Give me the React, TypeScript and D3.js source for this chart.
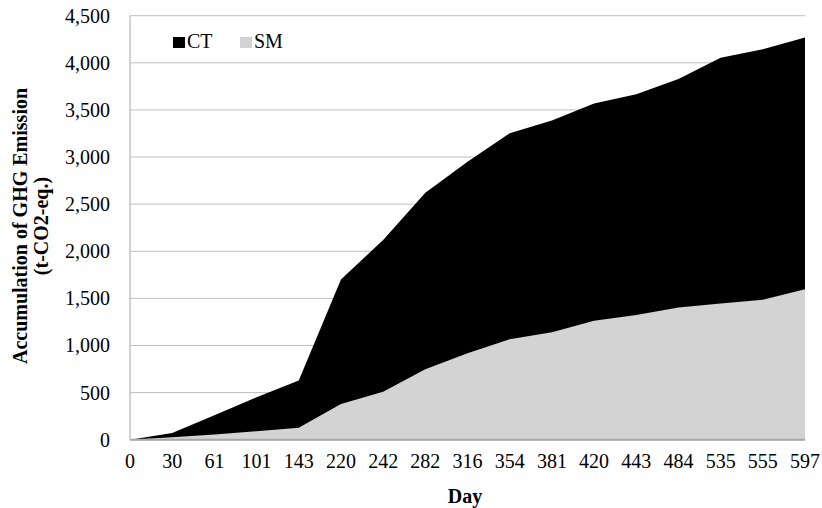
import React from "react";
import * as d3 from "d3";

const days = ["0", "30", "61", "101", "143", "220", "242", "282", "316", "354", "381", "420", "443", "484", "535", "555", "597"];
const ctValues = [0, 72, 260, 450, 628, 1700, 2120, 2622, 2951, 3253, 3387, 3567, 3667, 3829, 4055, 4144, 4268];
const smValues = [0, 25, 55, 90, 128, 378, 510, 747, 917, 1066, 1140, 1263, 1324, 1403, 1446, 1485, 1597];
const yTicks = [0, 500, 1000, 1500, 2000, 2500, 3000, 3500, 4000, 4500];

const W = 822;
const H = 508;
const left = 130;
const right = 805;
const top = 15.7;
const bottom = 439.7;
const FONT = "'Liberation Serif', 'Times New Roman', serif";

export default function App() {
  const x = d3.scalePoint<string>().domain(days).range([left, right]);
  const y = d3.scaleLinear().domain([0, 4500]).range([bottom, top]);
  const fmt = d3.format(",");

  const area = (vals: number[]) =>
    d3
      .area<number>()
      .x((_, i) => x(days[i]) as number)
      .y0(y(0))
      .y1((d) => y(d))(vals) as string;

  return (
    <svg
      width={W}
      height={H}
      style={{ position: "absolute", left: 0, top: 0, background: "#fff" }}
      fontFamily={FONT}
    >
      {/* horizontal gridlines */}
      {yTicks.map((t) => (
        <line key={t} x1={left} x2={right} y1={y(t)} y2={y(t)} stroke="#bfbfbf" strokeWidth={1} />
      ))}
      {/* series areas */}
      <path d={area(ctValues)} fill="#000" />
      <path d={area(smValues)} fill="#d3d3d3" />
      {/* axes */}
      <line x1={left} x2={left} y1={top} y2={bottom} stroke="#a6a6a6" strokeWidth={1} />
      <line x1={left} x2={right} y1={bottom} y2={bottom} stroke="#a6a6a6" strokeWidth={2} />
      {yTicks.map((t) => (
        <text key={t} x={110} y={y(t)} dy="0.35em" textAnchor="end" fontSize={20} fill="#000">
          {fmt(t)}
        </text>
      ))}
      {days.map((d) => (
        <text key={d} x={x(d) as number} y={468} textAnchor="middle" fontSize={20} fill="#000">
          {d}
        </text>
      ))}
      <text x={465} y={503} textAnchor="middle" fontSize={20} fontWeight="bold">
        Day
      </text>
      <g transform="translate(27,226) rotate(-90)">
        <text x={0} y={0} textAnchor="middle" fontSize={20} fontWeight="bold">
          Accumulation of GHG Emission
        </text>
        <text x={0} y={21} textAnchor="middle" fontSize={20} fontWeight="bold">
          (t-CO2-eq.)
        </text>
      </g>
      {/* legend */}
      <rect x={173} y={37} width={12} height={11} fill="#000" />
      <text x={187} y={48} fontSize={20}>CT</text>
      <rect x={240} y={37} width={12} height={11} fill="#d3d3d3" />
      <text x={254} y={48} fontSize={20}>SM</text>
    </svg>
  );
}
